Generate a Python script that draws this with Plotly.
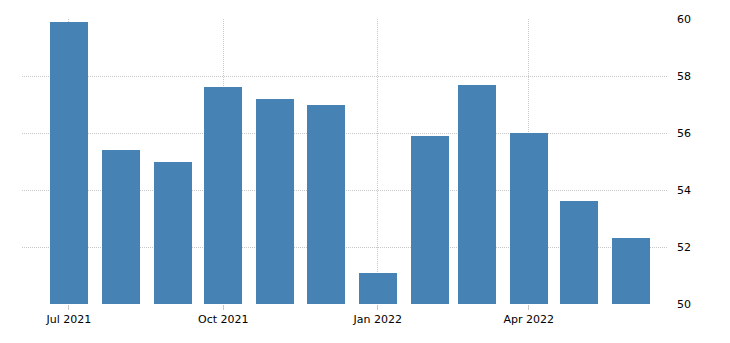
import plotly.graph_objects as go

months = ["2021-07-01", "2021-08-01", "2021-09-01", "2021-10-01", "2021-11-01", "2021-12-01",
          "2022-01-01", "2022-02-01", "2022-03-01", "2022-04-01", "2022-05-01", "2022-06-01"]
values = [59.9, 55.4, 55.0, 57.6, 57.2, 57.0, 51.1, 55.9, 57.7, 56.0, 53.6, 52.3]
tick_dates = ["2021-07-01", "2021-10-01", "2022-01-01", "2022-04-01"]
tick_labels = ["Jul 2021", "Oct 2021", "Jan 2022", "Apr 2022"]
y_ticks = [50, 52, 54, 56, 58, 60]

fig = go.Figure(go.Bar(
    x=months, y=values, base=0,
    width=[22.7 * 86400000] * len(months),
    marker=dict(color="#4682B4", line=dict(width=0)),
    hoverinfo="x+y",
))

fig.update_layout(
    width=730, height=343,
    margin=dict(l=22, r=62, t=19, b=39),
    paper_bgcolor="white", plot_bgcolor="white",
    showlegend=False,
    font=dict(family="DejaVu Sans", size=11, color="#000000"),
    bargap=0,
)
fig.update_xaxes(
    type="date",
    range=["2021-06-03", "2022-06-23"],
    tickmode="array", tickvals=tick_dates, ticktext=tick_labels,
    showgrid=True, gridcolor="#c8c8c8", griddash="1px,1px", gridwidth=1,
    ticks="outside", ticklen=5, tickcolor="#c8c8c8",
    showline=False, zeroline=False,
    tickfont=dict(size=11),
)
fig.update_yaxes(
    side="right",
    range=[50, 60],
    tickmode="array", tickvals=y_ticks,
    showgrid=True, gridcolor="#c8c8c8", griddash="1px,1px", gridwidth=1,
    ticks="", showline=False, zeroline=False,
    ticklabelstandoff=8,
    tickfont=dict(size=11),
)

fig.write_html("out.html")
